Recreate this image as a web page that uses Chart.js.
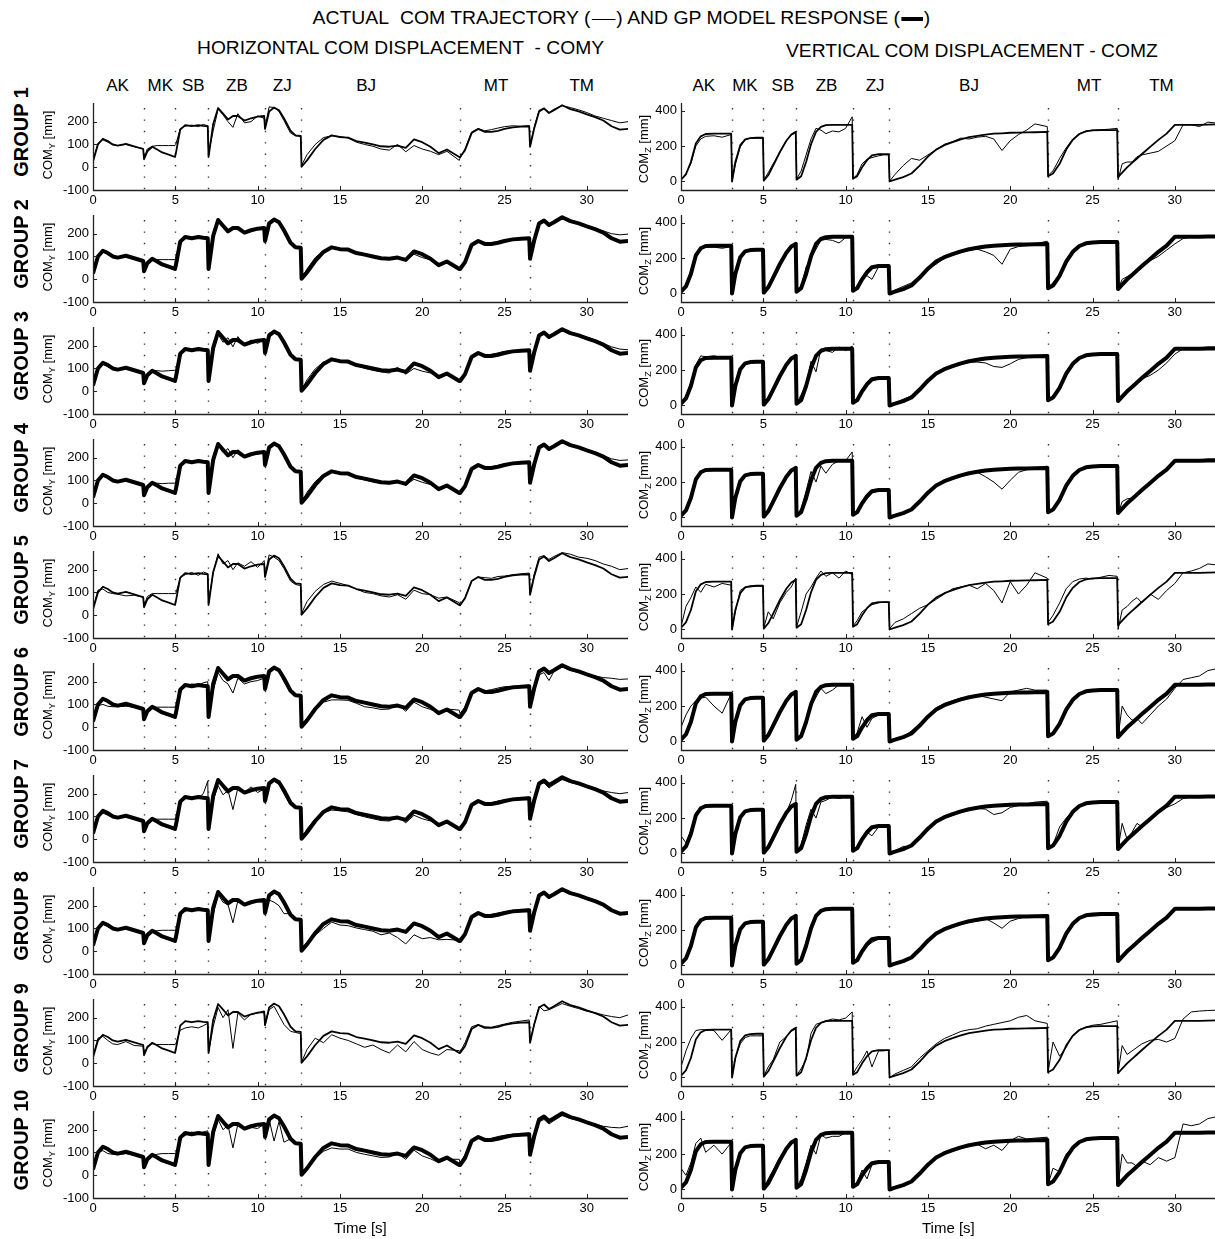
<!DOCTYPE html>
<html><head><meta charset="utf-8">
<script src="https://cdn.jsdelivr.net/npm/chart.js@4.4.1/dist/chart.umd.min.js"></script>
<style>
body{margin:0;background:#fff;}
#root{position:relative;width:1215px;height:1239px;overflow:hidden;background:#fff;font-family:"Liberation Sans",Arial,sans-serif;color:#000;}
.abs{position:absolute;white-space:nowrap;line-height:1;}
canvas{position:absolute;}
.hd{font-size:18px;}
.task{font-size:17px;}
.grp{font-size:20px;font-weight:bold;}
.ytl{font-size:13px;}
.ytl sub{font-size:9px;vertical-align:-3px;}
.xt{font-size:15px;}
.l1{display:inline-block;width:22px;border-top:1px solid #000;vertical-align:middle;margin:0 1px;}
.l2{display:inline-block;width:20px;height:4px;background:#000;vertical-align:middle;margin:0 1px;}
</style></head><body><div id="root"></div>
<script>
// ---------------- DATA ----------------
const TIME = [
 0,0.3,0.6,0.9,1.2,1.5,2.0,2.5,3.05,
 3.1,3.3,3.6,3.9,4.2,4.6,4.98,
 5.03,5.3,5.6,6.0,6.4,6.7,6.97,
 7.02,7.3,7.6,7.9,8.2,8.5,8.8,9.2,9.6,10.0,10.4,
 10.45,10.7,11.0,11.3,11.6,12.0,12.3,12.62,
 12.67,13.0,13.5,14.0,14.5,15.0,15.5,16.0,16.5,17.0,17.5,18.0,18.5,19.0,19.5,20.0,20.5,21.0,21.5,22.25,
 22.3,22.6,23.0,23.4,23.8,24.2,24.6,25.0,25.5,26.0,26.5,
 26.55,26.8,27.1,27.4,27.7,28.0,28.5,29.0,29.5,30.0,30.5,31.0,31.5,32.0,32.5
];
const TASKS = ["AK","MK","SB","ZB","ZJ","BJ","MT","TM"];
const TASK_T_Y = [1.5,4.1,6.1,8.75,11.5,16.6,24.5,29.7];
const TASK_T_Z = [1.4,3.9,6.2,8.85,11.8,17.5,24.8,29.2];
const BOUNDS = [3.08,5.0,7.0,10.43,12.65,22.28,26.53];
const X_TICKS = [0,5,10,15,20,25,30];
const Y_TICKS = [-100,0,100,200];
const Z_TICKS = [0,200,400];
const GROUPS = ["GROUP 1","GROUP 2","GROUP 3","GROUP 4","GROUP 5","GROUP 6","GROUP 7","GROUP 8","GROUP 9","GROUP 10"];

const modelY = [
 25,100,125,115,100,95,103,92,80,
 35,70,90,78,65,55,45,
 60,165,185,180,185,182,180,
 45,190,260,235,210,225,225,205,215,222,225,
 168,245,262,250,215,160,140,138,
 2,30,80,120,140,132,130,115,108,100,92,90,95,85,122,110,90,62,78,45,
 45,75,150,168,155,155,160,168,175,178,180,
 90,170,245,258,238,250,272,255,245,232,220,205,180,165,168];
const modelZ = [
 10,40,110,215,255,268,270,270,270,
 0,110,205,238,245,247,247,
 5,35,90,165,230,265,280,
 10,30,110,210,280,308,318,320,320,320,320,
 15,30,80,120,148,155,155,155,
 0,10,25,45,90,140,180,205,222,238,250,258,265,270,272,275,276,277,278,280,
 30,45,100,180,235,268,283,288,290,290,290,
 25,50,80,105,130,155,195,235,270,320,320,320,320,321,322];

const actY1 = [
 30,105,120,110,98,95,100,90,82,
 40,80,92,95,95,95,95,
 100,170,180,185,178,188,182,
 60,160,255,230,200,175,235,195,200,225,215,
 175,265,262,245,205,150,138,135,
 8,55,100,130,138,135,128,110,100,92,80,75,100,68,95,80,70,55,70,30,
 40,80,155,170,160,165,172,178,182,180,182,
 95,175,250,260,240,255,270,262,252,240,225,215,205,195,200];
const actY2 = [
 28,105,122,112,98,96,100,92,82,
 40,75,88,86,86,86,86,
 95,170,180,183,180,185,180,
 55,175,255,230,205,220,228,200,210,218,230,
 172,240,258,245,210,158,140,136,
 5,45,95,125,138,130,128,112,105,98,90,88,100,82,110,95,85,60,75,45,
 48,80,150,165,158,158,162,170,176,180,182,
 95,175,245,255,240,248,268,255,245,235,222,212,200,195,198];
const actY3 = [
 30,108,118,108,100,95,100,90,85,
 38,78,92,90,88,90,92,
 90,172,182,185,178,186,182,
 60,170,250,215,235,195,240,200,225,210,232,
 170,255,260,248,212,155,140,136,
 6,50,98,128,135,130,125,112,100,92,85,80,105,75,100,88,80,58,72,42,
 45,82,152,170,160,162,168,175,178,180,184,
 92,172,248,262,238,252,268,255,248,238,225,210,195,185,182];
const actY4 = [
 28,104,120,110,98,96,102,90,82,
 38,76,90,88,86,88,88,
 92,170,178,184,180,186,180,
 58,170,258,222,240,200,235,205,220,215,225,
 170,252,262,248,210,155,140,136,
 5,48,95,126,136,132,126,112,102,95,88,85,100,80,105,92,82,58,72,45,
 46,80,150,168,160,160,166,172,178,180,182,
 92,175,248,258,240,250,270,258,248,236,222,210,195,188,190];
const actY5 = [
 30,110,115,100,95,92,85,88,78,
 40,82,95,95,95,95,95,
 95,165,178,188,175,190,183,
 62,185,270,225,240,200,230,215,235,210,240,
 175,265,255,240,205,150,135,130,
 8,60,105,135,150,140,130,115,100,95,85,80,90,70,110,95,90,75,80,55,
 40,75,150,168,165,162,170,172,178,182,185,
 95,180,255,262,245,258,275,268,255,250,240,225,215,200,205];
const actY6 = [
 30,95,100,92,90,90,92,88,85,
 45,75,88,88,88,88,88,
 95,170,180,190,185,195,200,
 75,160,240,205,190,150,215,190,200,205,215,
 170,240,255,245,200,155,140,135,
 5,40,80,110,120,120,118,105,90,85,78,80,100,70,110,90,78,65,80,75,
 60,90,155,165,160,165,172,178,180,182,185,
 100,160,230,240,205,245,265,250,240,235,225,218,215,210,212];
const actY7 = [
 30,105,115,105,95,95,98,90,85,
 42,78,90,88,88,88,88,
 95,172,178,185,182,200,255,
 60,170,235,195,215,130,225,205,230,205,220,
 165,250,255,240,200,150,138,135,
 5,45,90,118,128,125,120,108,98,90,82,80,100,72,105,90,80,62,75,50,
 50,85,150,165,158,160,168,172,178,182,185,
 95,170,240,248,225,240,262,250,240,232,222,212,205,200,205];
const actY8 = [
 30,102,118,108,98,95,100,90,82,
 40,80,90,90,92,92,92,
 90,170,175,185,180,188,182,
 50,160,250,215,205,125,222,205,212,218,215,
 170,225,215,200,165,165,140,135,
 8,40,70,100,128,115,112,102,95,88,72,80,60,32,72,55,60,50,52,48,
 45,78,150,168,160,162,168,172,180,182,185,
 95,172,245,255,240,250,270,255,245,232,220,205,185,168,170];
const actY9 = [
 30,110,118,100,85,82,95,78,75,
 40,75,85,82,82,82,82,
 85,145,155,160,155,165,175,
 45,160,245,200,235,65,220,190,215,220,230,
 165,235,250,210,170,140,135,130,
 5,60,110,90,125,110,100,85,70,80,60,45,80,50,95,60,45,35,60,55,
 50,90,160,170,160,158,165,172,180,185,190,
 95,170,250,230,235,245,262,250,240,228,222,212,205,200,212];
const actY10 = [
 30,100,108,95,92,90,95,88,82,
 40,75,88,92,95,95,95,
 90,165,175,190,178,190,195,
 70,170,245,200,220,120,225,200,210,205,225,
 165,245,150,235,145,160,140,135,
 5,35,75,105,120,115,115,100,92,85,78,80,95,70,110,85,72,55,70,70,
 55,90,155,165,160,162,170,175,180,182,185,
 95,165,235,245,225,240,262,250,240,232,225,215,210,208,215];

const actZ1 = [
 10,45,100,200,240,255,258,250,265,
 5,95,195,235,245,245,245,
 8,50,100,165,230,262,275,
 12,60,150,240,300,290,270,285,280,300,365,
 15,40,100,125,135,145,150,150,
 2,40,90,130,120,150,180,210,225,245,240,250,255,240,175,230,265,290,325,310,
 35,60,130,190,240,270,285,290,292,295,300,
 10,100,110,110,140,150,160,170,200,230,320,320,310,335,330];
const actZ2 = [
 10,50,120,200,250,262,262,255,265,
 5,110,200,235,242,245,245,
 8,45,100,170,230,262,278,
 12,40,150,200,250,300,305,300,285,315,318,
 15,45,90,100,80,150,152,150,
 2,20,40,60,100,140,165,200,220,240,245,250,235,215,165,250,265,270,280,295,
 35,60,110,180,235,268,282,288,290,290,290,
 25,80,95,110,140,155,185,210,245,280,310,320,320,321,322];
const actZ3 = [
 12,55,130,230,280,275,280,272,278,
 5,105,200,232,240,245,245,
 8,50,95,165,240,270,282,
 12,60,120,250,190,320,310,300,330,310,335,
 15,40,85,110,140,152,155,155,
 2,15,35,55,100,140,175,200,225,235,245,245,240,220,215,235,260,270,278,285,
 30,55,110,180,232,265,280,287,290,292,292,
 20,50,80,110,135,150,170,200,240,290,320,322,325,330,330];
const actZ4 = [
 10,45,115,215,262,270,272,270,270,
 5,105,200,238,245,247,247,
 8,45,100,170,235,265,280,
 12,50,150,260,200,290,250,300,320,320,370,
 15,35,80,105,140,150,155,155,
 2,12,28,50,95,140,178,200,220,235,250,255,230,200,160,210,255,270,280,290,
 30,50,110,185,238,268,283,288,290,290,290,
 20,90,105,110,135,155,190,230,265,315,320,320,325,330,330];
const actZ5 = [
 15,130,180,240,210,255,240,260,250,
 5,100,220,240,240,245,245,
 10,100,60,150,210,240,290,
 15,100,200,240,290,330,300,320,290,330,310,
 20,50,100,120,140,150,155,155,
 5,40,60,90,120,140,170,200,230,240,250,230,260,220,150,270,200,250,320,290,
 40,80,150,230,270,285,290,285,295,305,300,
 0,110,130,160,180,150,200,170,220,260,320,330,345,370,365];
const actZ6 = [
 80,150,200,230,245,250,200,160,270,
 5,105,200,238,245,247,247,
 8,50,100,170,230,260,280,
 12,40,120,200,250,300,270,290,320,315,320,
 20,50,140,80,130,150,155,155,
 2,12,25,60,100,150,190,215,230,245,245,260,250,240,230,280,290,300,290,290,
 30,45,100,180,235,268,283,288,290,290,290,
 25,200,150,120,130,100,150,200,240,300,350,360,370,400,410];
const actZ7 = [
 100,60,130,230,260,265,270,270,270,
 5,110,200,238,245,247,247,
 8,40,100,160,230,300,390,
 12,50,160,250,200,290,300,320,310,320,320,
 15,40,70,120,100,150,155,155,
 2,15,40,40,100,130,175,200,215,235,245,255,250,220,230,260,270,280,290,295,
 30,50,150,200,240,270,283,288,290,290,290,
 25,170,80,120,170,150,200,230,260,280,310,320,320,321,322];
const actZ8 = [
 10,45,115,220,258,268,270,270,270,
 0,105,200,235,245,247,247,
 5,40,95,170,235,268,282,
 10,40,135,228,290,310,315,320,320,320,322,
 15,30,90,110,130,150,155,155,
 0,12,28,48,92,140,180,205,222,235,245,250,265,240,210,250,265,275,280,282,
 30,45,105,180,235,265,278,280,282,285,285,
 25,50,85,110,135,160,200,240,270,318,320,320,321,322,322];
const actZ9 = [
 60,150,220,265,270,270,265,210,270,
 5,110,190,225,235,235,235,
 8,60,100,200,230,260,275,
 12,50,100,250,300,310,320,330,325,335,370,
 20,60,100,150,60,150,150,155,
 0,20,40,60,110,150,190,220,240,260,270,275,290,300,310,320,340,350,320,305,
 30,200,120,170,240,270,285,295,300,310,320,
 25,180,130,150,170,190,210,215,200,220,330,370,375,378,380];
const actZ10 = [
 120,80,150,260,290,210,250,200,265,
 5,110,200,238,245,247,247,
 8,60,110,180,230,260,280,
 12,60,150,250,200,310,290,300,300,320,320,
 15,40,110,60,140,150,155,155,
 2,12,30,50,95,130,180,200,220,240,250,255,230,250,220,275,300,285,290,295,
 30,120,100,200,235,268,283,288,290,290,290,
 25,200,150,150,130,160,140,180,160,180,370,360,370,400,410];

const ACT_Y = [actY1,actY2,actY3,actY4,actY5,actY6,actY7,actY8,actY9,actY10];
const ACT_Z = [actZ1,actZ2,actZ3,actZ4,actZ5,actZ6,actZ7,actZ8,actZ9,actZ10];
const THICK_GROUPS = [2,3,4,6,7,8,10];

// ---------------- LAYOUT ----------------
const root = document.getElementById('root');
const FONT = '"Liberation Sans", Arial, sans-serif';
const PLOT_W = 535, PLOT_H = 87, ROW_STEP = 112, TOP0 = 103;
const YAXIS_W = 40, XAXIS_H = 22;
const COL_LEFT = [93, 681];

function addText(html, cx, cy, cls, rot, fitW) {
  const d = document.createElement('div');
  d.className = 'abs ' + cls; d.innerHTML = html;
  root.appendChild(d);
  const w = d.offsetWidth, h = d.offsetHeight;
  d.style.left = (cx - w / 2) + 'px';
  d.style.top = (cy - h / 2) + 'px';
  let t = '';
  if (rot) t += 'rotate(' + rot + 'deg) ';
  if (fitW) t += 'scaleX(' + (fitW / w) + ')';
  if (t) d.style.transform = t;
  return d;
}

const axisPlugin = {
  id: 'axesdraw',
  beforeDatasetsDraw(chart) {
    const {ctx, chartArea: a, scales: {x}} = chart;
    ctx.save();
    ctx.strokeStyle = '#333'; ctx.lineWidth = 1.4; ctx.setLineDash([1.4, 10]);
    BOUNDS.forEach(t => {
      const px = Math.round(x.getPixelForValue(t)) + 0.5;
      ctx.beginPath(); ctx.moveTo(px, a.top + 5); ctx.lineTo(px, a.bottom); ctx.stroke();
    });
    ctx.restore();
  },
  afterDatasetsDraw(chart) {
    const {ctx, chartArea: a, scales: {x, y}} = chart;
    ctx.save();
    ctx.strokeStyle = '#222'; ctx.lineWidth = 1.3; ctx.setLineDash([]);
    ctx.beginPath();
    ctx.moveTo(a.left + 0.5, a.top); ctx.lineTo(a.left + 0.5, a.bottom + 0.5);
    ctx.lineTo(a.right, a.bottom + 0.5);
    ctx.stroke();
    ctx.lineWidth = 1;
    x.ticks.forEach(tk => {
      const px = Math.round(x.getPixelForValue(tk.value)) + 0.5;
      ctx.beginPath(); ctx.moveTo(px, a.bottom); ctx.lineTo(px, a.bottom - 4); ctx.stroke();
    });
    y.ticks.forEach(tk => {
      const py = Math.round(y.getPixelForValue(tk.value)) + 0.5;
      ctx.beginPath(); ctx.moveTo(a.left, py); ctx.lineTo(a.left + 4, py); ctx.stroke();
    });
    ctx.restore();
  }
};

function makePanel(row, col) {
  const isY = col === 0;
  const cv = document.createElement('canvas');
  const W = YAXIS_W + PLOT_W, H = PLOT_H + XAXIS_H;
  cv.width = W; cv.height = H;
  cv.style.left = (COL_LEFT[col] - YAXIS_W) + 'px';
  cv.style.top = (TOP0 + row * ROW_STEP) + 'px';
  cv.style.width = W + 'px'; cv.style.height = H + 'px';
  root.appendChild(cv);
  const model = isY ? modelY : modelZ;
  const act = isY ? ACT_Y[row] : ACT_Z[row];
  const thick = THICK_GROUPS.includes(row + 1);
  const ticksArr = isY ? Y_TICKS : Z_TICKS;
  return new Chart(cv, {
    type: 'line',
    data: {
      datasets: [
        { data: TIME.map((t, i) => ({x: t, y: act[i]})), borderColor: '#000', borderWidth: 1,
          pointRadius: 0, tension: 0, fill: false, order: 1, borderJoinStyle: 'round' },
        { data: TIME.map((t, i) => ({x: t, y: model[i]})), borderColor: '#000', borderWidth: thick ? 4 : 1.8,
          pointRadius: 0, tension: 0, fill: false, order: 2, borderJoinStyle: 'round' }
      ]
    },
    options: {
      responsive: false, animation: false, devicePixelRatio: 1,
      events: [],
      layout: { padding: 0 },
      plugins: { legend: { display: false }, tooltip: { enabled: false } },
      scales: {
        x: {
          type: 'linear', min: 0, max: 32.5,
          grid: { display: false, drawTicks: false }, border: { display: false },
          afterBuildTicks: s => { s.ticks = X_TICKS.map(v => ({value: v})); },
          afterFit: s => { s.height = XAXIS_H; s.paddingLeft = 0; s.paddingRight = 0; },
          ticks: { padding: 3, color: '#000', font: { family: FONT, size: 13 }, maxRotation: 0, autoSkip: false }
        },
        y: {
          type: 'linear', min: isY ? -100 : -48, max: isY ? 282 : 443,
          grid: { display: false, drawTicks: false }, border: { display: false },
          afterBuildTicks: s => { s.ticks = ticksArr.map(v => ({value: v})); },
          afterFit: s => { s.width = YAXIS_W; s.paddingTop = 0; s.paddingBottom = 0; },
          ticks: { padding: 4, color: '#000', font: { family: FONT, size: 13 }, autoSkip: false }
        }
      }
    },
    plugins: [axisPlugin]
  });
}

const charts = [];
for (let r = 0; r < 10; r++) {
  charts.push([makePanel(r, 0), makePanel(r, 1)]);
}

// ---------------- TEXT ----------------
addText('ACTUAL&nbsp; COM TRAJECTORY (<span class="l1"></span>) AND GP MODEL RESPONSE (<span class="l2"></span>)', 621, 18, 'hd', 0, 618);
addText('HORIZONTAL COM DISPLACEMENT&nbsp; - COMY', 400, 48, 'hd', 0, 407);
addText('VERTICAL COM DISPLACEMENT - COMZ', 972, 51, 'hd', 0, 372);

[0, 1].forEach(col => {
  const ch = charts[0][col];
  const tArr = col === 0 ? TASK_T_Y : TASK_T_Z;
  const off = COL_LEFT[col] - YAXIS_W;
  TASKS.forEach((name, i) => {
    addText(name, off + ch.scales.x.getPixelForValue(tArr[i]), 85, 'task');
  });
});

for (let r = 0; r < 10; r++) {
  const top = TOP0 + r * ROW_STEP;
  addText(GROUPS[r], 21, top + 29, 'grp', -90);
  addText('COM<sub>Y</sub> [mm]', 49, top + PLOT_H / 2 - 2, 'ytl', -90);
  addText('COM<sub>Z</sub> [mm]', 645, top + PLOT_H / 2 + 2, 'ytl', -90);
}
const lastBottom = TOP0 + 9 * ROW_STEP + PLOT_H;
addText('Time [s]', COL_LEFT[0] + PLOT_W / 2, lastBottom + 29, 'xt');
addText('Time [s]', COL_LEFT[1] + PLOT_W / 2, lastBottom + 29, 'xt');
</script></body></html>
